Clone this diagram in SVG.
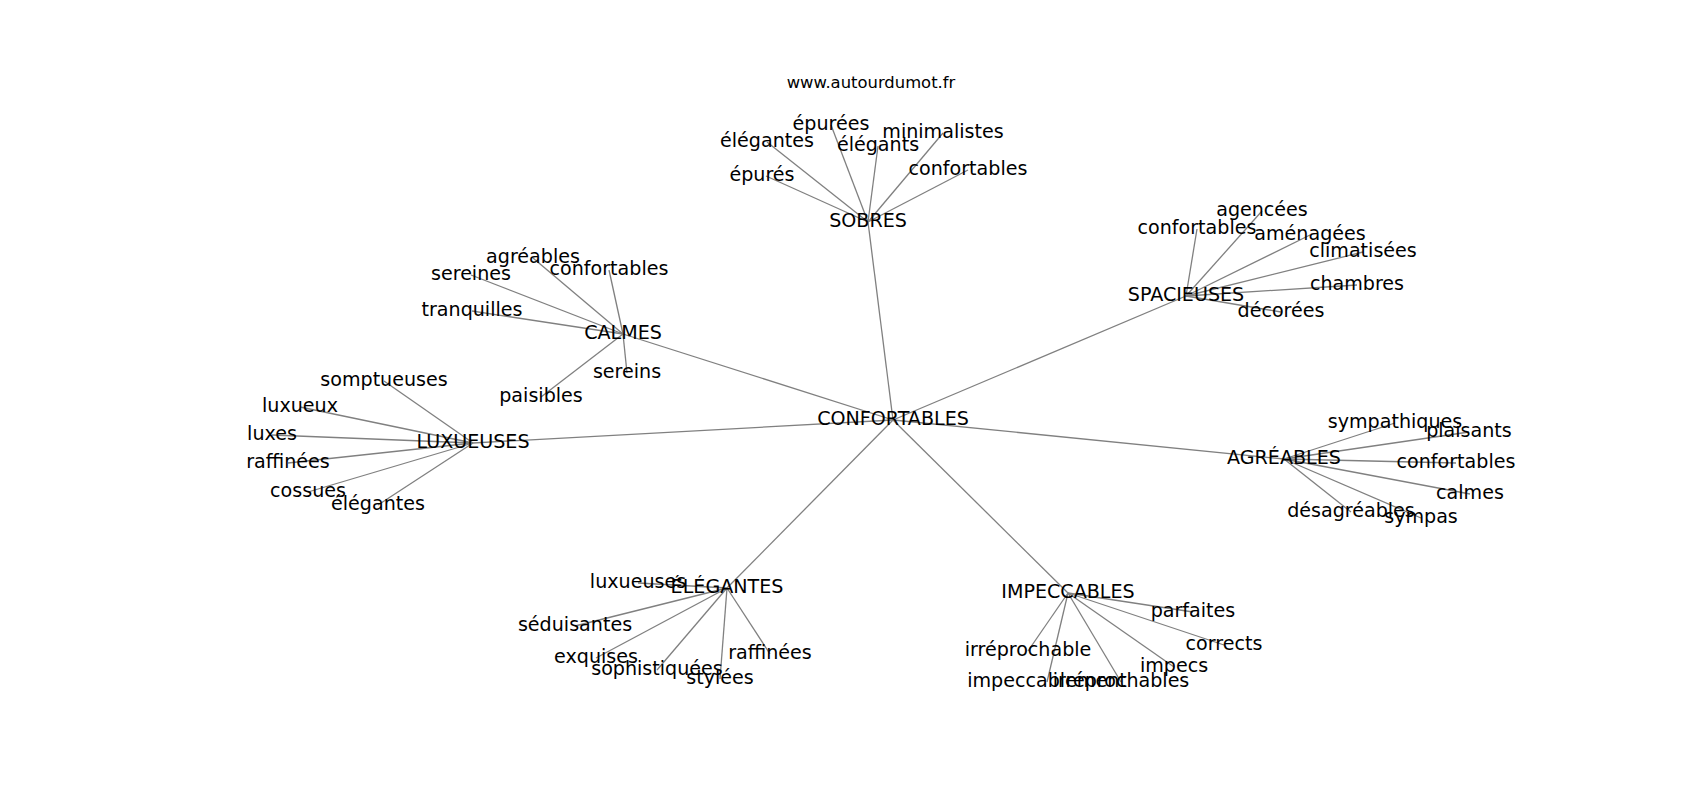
<svg xmlns="http://www.w3.org/2000/svg" width="1700" height="800" viewBox="0 0 1700 800">
<style>
text{font-family:"DejaVu Sans","Liberation Sans",sans-serif;fill:#000;text-anchor:middle}
.n text{font-size:19.1px}
.title{font-size:16.4px}
#edges line{stroke:#808080;stroke-width:1.3}
</style>
<rect width="1700" height="800" fill="#fff"/>
<text class="title" x="871" y="88">www.autourdumot.fr</text>
<g id="edges">
<line x1="893" y1="420" x2="868" y2="222"/>
<line x1="893" y1="420" x2="623" y2="334"/>
<line x1="893" y1="420" x2="1186" y2="296"/>
<line x1="893" y1="420" x2="473" y2="443"/>
<line x1="893" y1="420" x2="1284" y2="459"/>
<line x1="893" y1="420" x2="727" y2="588"/>
<line x1="893" y1="420" x2="1068" y2="593"/>
<line x1="868" y1="222" x2="831" y2="125"/>
<line x1="868" y1="222" x2="767" y2="142"/>
<line x1="868" y1="222" x2="878" y2="146"/>
<line x1="868" y1="222" x2="943" y2="133"/>
<line x1="868" y1="222" x2="766" y2="176"/>
<line x1="868" y1="222" x2="968" y2="170"/>
<line x1="1186" y1="296" x2="1262" y2="211"/>
<line x1="1186" y1="296" x2="1197" y2="229"/>
<line x1="1186" y1="296" x2="1310" y2="235"/>
<line x1="1186" y1="296" x2="1363" y2="252"/>
<line x1="1186" y1="296" x2="1357" y2="285"/>
<line x1="1186" y1="296" x2="1281" y2="312"/>
<line x1="623" y1="334" x2="533" y2="258"/>
<line x1="623" y1="334" x2="471" y2="275"/>
<line x1="623" y1="334" x2="609" y2="270"/>
<line x1="623" y1="334" x2="472" y2="311"/>
<line x1="623" y1="334" x2="627" y2="373"/>
<line x1="623" y1="334" x2="541" y2="397"/>
<line x1="473" y1="443" x2="384" y2="381"/>
<line x1="473" y1="443" x2="300" y2="407"/>
<line x1="473" y1="443" x2="272" y2="435"/>
<line x1="473" y1="443" x2="288" y2="463"/>
<line x1="473" y1="443" x2="308" y2="492"/>
<line x1="473" y1="443" x2="378" y2="505"/>
<line x1="1284" y1="459" x2="1395" y2="423"/>
<line x1="1284" y1="459" x2="1469" y2="432"/>
<line x1="1284" y1="459" x2="1456" y2="463"/>
<line x1="1284" y1="459" x2="1470" y2="494"/>
<line x1="1284" y1="459" x2="1351" y2="512"/>
<line x1="1284" y1="459" x2="1421" y2="518"/>
<line x1="727" y1="588" x2="638" y2="583"/>
<line x1="727" y1="588" x2="575" y2="626"/>
<line x1="727" y1="588" x2="596" y2="658"/>
<line x1="727" y1="588" x2="657" y2="670"/>
<line x1="727" y1="588" x2="720" y2="679"/>
<line x1="727" y1="588" x2="770" y2="654"/>
<line x1="1068" y1="593" x2="1193" y2="612"/>
<line x1="1068" y1="593" x2="1224" y2="645"/>
<line x1="1068" y1="593" x2="1028" y2="651"/>
<line x1="1068" y1="593" x2="1174" y2="667"/>
<line x1="1068" y1="593" x2="1047" y2="682"/>
<line x1="1068" y1="593" x2="1121" y2="682"/>
</g>
<g class="n">
<g id="n-confortables"><text x="893" y="425">CONFORTABLES</text></g>
<g id="n-sobres"><text x="868" y="227">SOBRES</text></g>
<g id="n-calmes"><text x="623" y="339">CALMES</text></g>
<g id="n-spacieuses"><text x="1186" y="301">SPACIEUSES</text></g>
<g id="n-luxueuses"><text x="473" y="448">LUXUEUSES</text></g>
<g id="n-agreables"><text x="1284" y="464">AGRÉABLES</text></g>
<g id="n-elegantes"><text x="727" y="593">ÉLÉGANTES</text></g>
<g id="n-impeccables"><text x="1068" y="598">IMPECCABLES</text></g>

<g id="sob-epurees"><text x="831" y="130">épurées</text></g>
<g id="sob-elegantes"><text x="767" y="147">élégantes</text></g>
<g id="sob-elegants"><text x="878" y="151">élégants</text></g>
<g id="sob-minimalistes"><text x="943" y="138">minimalistes</text></g>
<g id="sob-epures"><text x="762" y="181">épurés</text></g>
<g id="sob-confortables"><text x="968" y="175">confortables</text></g>

<g id="spa-agencees"><text x="1262" y="216">agencées</text></g>
<g id="spa-confortables"><text x="1197" y="234">confortables</text></g>
<g id="spa-amenagees"><text x="1310" y="240">aménagées</text></g>
<g id="spa-climatisees"><text x="1363" y="257">climatisées</text></g>
<g id="spa-chambres"><text x="1357" y="290">chambres</text></g>
<g id="spa-decorees"><text x="1281" y="317">décorées</text></g>

<g id="cal-agreables"><text x="533" y="263">agréables</text></g>
<g id="cal-sereines"><text x="471" y="280">sereines</text></g>
<g id="cal-confortables"><text x="609" y="275">confortables</text></g>
<g id="cal-tranquilles"><text x="472" y="316">tranquilles</text></g>
<g id="cal-sereins"><text x="627" y="378">sereins</text></g>
<g id="cal-paisibles"><text x="541" y="402">paisibles</text></g>

<g id="lux-somptueuses"><text x="384" y="386">somptueuses</text></g>
<g id="lux-luxueux"><text x="300" y="412">luxueux</text></g>
<g id="lux-luxes"><text x="272" y="440">luxes</text></g>
<g id="lux-raffinees"><text x="288" y="468">raffinées</text></g>
<g id="lux-cossues"><text x="308" y="497">cossues</text></g>
<g id="lux-elegantes"><text x="378" y="510">élégantes</text></g>

<g id="agr-sympathiques"><text x="1395" y="428">sympathiques</text></g>
<g id="agr-plaisants"><text x="1469" y="437">plaisants</text></g>
<g id="agr-confortables"><text x="1456" y="468">confortables</text></g>
<g id="agr-calmes"><text x="1470" y="499">calmes</text></g>
<g id="agr-desagreables"><text x="1351" y="517">désagréables</text></g>
<g id="agr-sympas"><text x="1421" y="523">sympas</text></g>

<g id="ele-luxueuses"><text x="638" y="588">luxueuses</text></g>
<g id="ele-seduisantes"><text x="575" y="631">séduisantes</text></g>
<g id="ele-exquises"><text x="596" y="663">exquises</text></g>
<g id="ele-sophistiquees"><text x="657" y="675">sophistiquées</text></g>
<g id="ele-stylees"><text x="720" y="684">stylées</text></g>
<g id="ele-raffinees"><text x="770" y="659">raffinées</text></g>

<g id="imp-parfaites"><text x="1193" y="617">parfaites</text></g>
<g id="imp-corrects"><text x="1224" y="650">corrects</text></g>
<g id="imp-irreprochable"><text x="1028" y="656">irréprochable</text></g>
<g id="imp-impecs"><text x="1174" y="672">impecs</text></g>
<g id="imp-impeccablement"><text x="1047" y="687">impeccablement</text></g>
<g id="imp-irreprochables"><text x="1121" y="687">irréprochables</text></g>
</g>
</svg>
